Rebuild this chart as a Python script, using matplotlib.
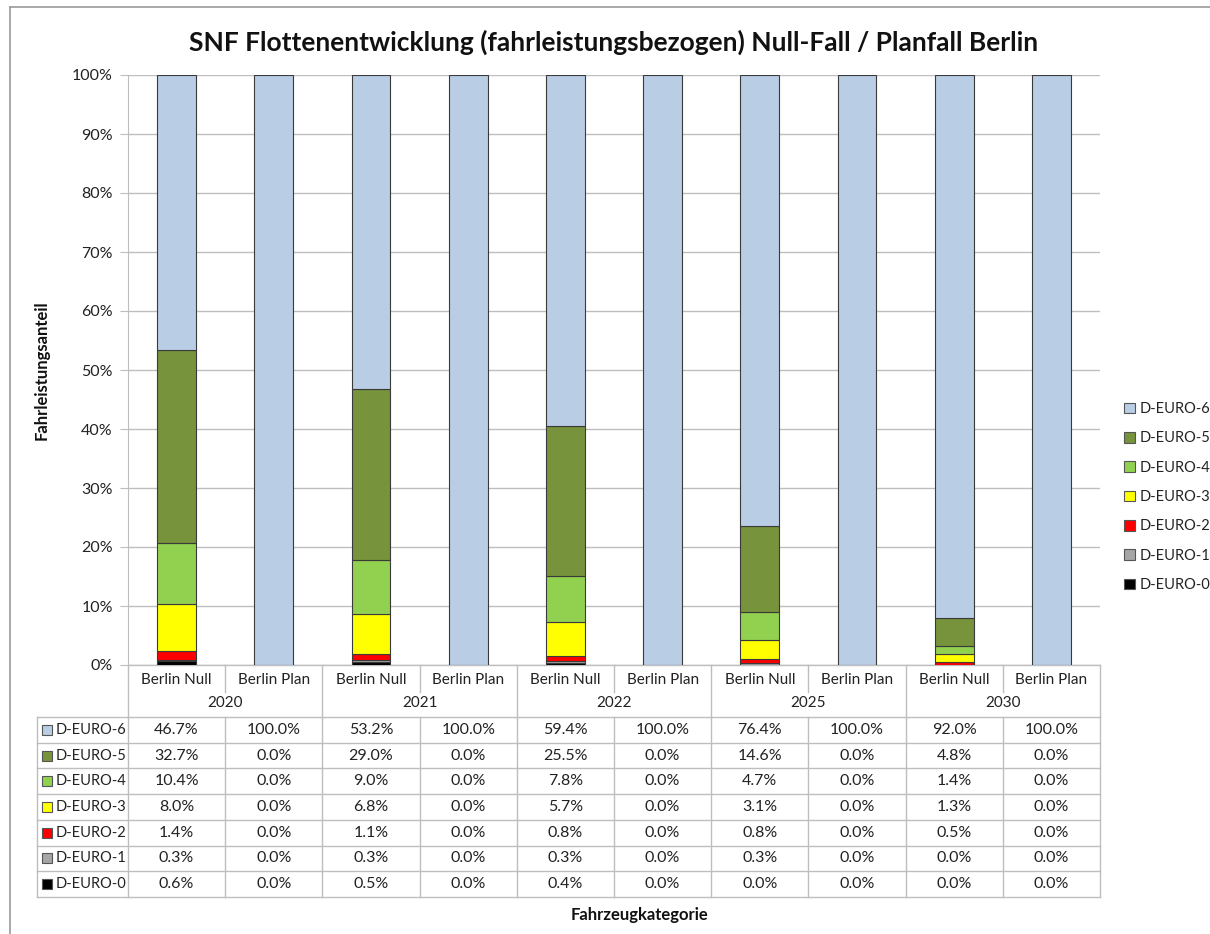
import matplotlib
matplotlib.use("Agg")
import matplotlib.pyplot as plt
from matplotlib.patches import Rectangle
import numpy as np

# ---------------- data ----------------
years = ["2020", "2021", "2022", "2025", "2030"]
scenarios = ["Berlin Null", "Berlin Plan"]
series_names = ["D-EURO-0", "D-EURO-1", "D-EURO-2", "D-EURO-3", "D-EURO-4", "D-EURO-5", "D-EURO-6"]
euro0 = [0.6, 0.0, 0.5, 0.0, 0.4, 0.0, 0.0, 0.0, 0.0, 0.0]
euro1 = [0.3, 0.0, 0.3, 0.0, 0.3, 0.0, 0.3, 0.0, 0.0, 0.0]
euro2 = [1.4, 0.0, 1.1, 0.0, 0.8, 0.0, 0.8, 0.0, 0.5, 0.0]
euro3 = [8.0, 0.0, 6.8, 0.0, 5.7, 0.0, 3.1, 0.0, 1.3, 0.0]
euro4 = [10.4, 0.0, 9.0, 0.0, 7.8, 0.0, 4.7, 0.0, 1.4, 0.0]
euro5 = [32.7, 0.0, 29.0, 0.0, 25.5, 0.0, 14.6, 0.0, 4.8, 0.0]
euro6 = [46.7, 100.0, 53.2, 100.0, 59.4, 100.0, 76.4, 100.0, 92.0, 100.0]
series_values = [euro0, euro1, euro2, euro3, euro4, euro5, euro6]
colors = ["#000000", "#A6A6A6", "#FF0000", "#FFFF00", "#92D050", "#77933C", "#B9CDE5"]
yticks = [0, 10, 20, 30, 40, 50, 60, 70, 80, 90, 100]

FONT = "Lato"
plt.rcParams["font.family"] = [FONT, "DejaVu Sans"]

W, H = 1210, 934
fig = plt.figure(figsize=(W / 100, H / 100), dpi=100)

# overlay in pixel coords (y down)
ov = fig.add_axes([0, 0, 1, 1], zorder=0)
ov.set_xlim(0, W)
ov.set_ylim(H, 0)
ov.axis("off")

# plot area
PL, PR, PT, PB = 128, 1100, 75, 665
ax = fig.add_axes([PL / W, 1 - PB / H, (PR - PL) / W, (PB - PT) / H], zorder=1)
ax.patch.set_alpha(0)

n = len(euro6)
x = np.arange(n)
totals = np.sum(np.array(series_values), axis=0)  # 100% stacked: normalise
bottom = np.zeros(n)
for name, vals, c in zip(series_names, series_values, colors):
    v = np.array(vals) / totals
    ax.bar(x, v, width=0.4, bottom=bottom, color=c, edgecolor="#3A3A3A",
           linewidth=0.8, zorder=3, label=name)
    bottom += v

ax.set_xlim(-0.5, n - 0.5)
ax.set_ylim(0, 1)
ax.set_yticks([t / 100 for t in yticks])
ax.set_yticklabels([f"{t}%" for t in yticks], fontsize=11.5, color="#222222")
ax.yaxis.grid(True, color="#BEBEBE", linewidth=1, zorder=0)
ax.set_xticks([])
for s in ["top", "right", "bottom"]:
    ax.spines[s].set_visible(False)
ax.spines["left"].set_color("#BEBEBE")
ax.tick_params(axis="y", length=6, color="#BEBEBE", pad=5)

# helper: data x to pixel
def xpix(xd):
    return ax.transData.transform((xd, 0))[0]

col_edges = [xpix(i - 0.5) for i in range(n + 1)]
col_centers = [xpix(i) for i in range(n)]

gc = "#BEBEBE"
lw = 1.0
TL = 37  # table left
HT, HMID, HB = 665, 692, 717
ov.plot([col_edges[0], col_edges[-1]], [PB, PB], color=gc, lw=lw)
for k, xe in enumerate(col_edges):
    if k % 2 == 0:
        ov.plot([xe, xe], [HT, HB], color=gc, lw=lw)
    else:
        ov.plot([xe, xe], [HT, HMID], color=gc, lw=lw)
for i in range(n):
    ov.text(col_centers[i], 680, scenarios[i % 2], ha="center", va="center",
            fontsize=11, color="#222222")
for j, yv in enumerate(years):
    cx = (col_edges[2 * j] + col_edges[2 * j + 2]) / 2
    ov.text(cx, 703, yv, ha="center", va="center", fontsize=11, color="#222222")

# data table
row_h = (897 - 717) / 7
rows_top = [717 + r * row_h for r in range(8)]
for yy in rows_top:
    ov.plot([TL, col_edges[-1]], [yy, yy], color=gc, lw=lw)
for xe in [TL] + col_edges:
    ov.plot([xe, xe], [rows_top[0], rows_top[-1]], color=gc, lw=lw)

order = list(range(len(series_names)))[::-1]
for r, si in enumerate(order):
    yc = rows_top[r] + row_h / 2
    ov.add_patch(Rectangle((42, yc - 5), 10, 10, facecolor=colors[si],
                           edgecolor="#555555", lw=0.8))
    ov.text(56, yc, series_names[si], ha="left", va="center", fontsize=10.5, color="#222222")
    for i in range(n):
        ov.text(col_centers[i], yc, f"{series_values[si][i]:.1f}%", ha="center",
                va="center", fontsize=11.5, color="#222222")

# legend
handles = [Rectangle((0, 0), 1, 1, facecolor=colors[si], edgecolor="#555555", lw=0.8)
           for si in order]
leg = fig.legend(handles, [series_names[si] for si in order], loc="center left",
                 bbox_to_anchor=(1124 / W, 1 - 497 / H), frameon=False, fontsize=10.5,
                 handlelength=0.75, handleheight=0.75, handletextpad=0.3,
                 labelspacing=1.05, borderaxespad=0, borderpad=0)
for t in leg.get_texts():
    t.set_color("#222222")

# titles
ov.text(614, 42, "SNF Flottenentwicklung (fahrleistungsbezogen) Null-Fall / Planfall Berlin",
        ha="center", va="center", fontsize=19, fontweight="bold", color="#111111")
ov.text(42, 370, "Fahrleistungsanteil", ha="center", va="center", rotation=90,
        fontsize=12, fontweight="bold", color="#111111")
ov.text(640, 915, "Fahrzeugkategorie", ha="center", va="center",
        fontsize=12, fontweight="bold", color="#111111")

# outer border
ov.plot([10, 10], [7, H], color="#9A9A9A", lw=1.2)
ov.plot([10, W], [7, 7], color="#9A9A9A", lw=1.2)

fig.savefig("out.png", dpi=100)
